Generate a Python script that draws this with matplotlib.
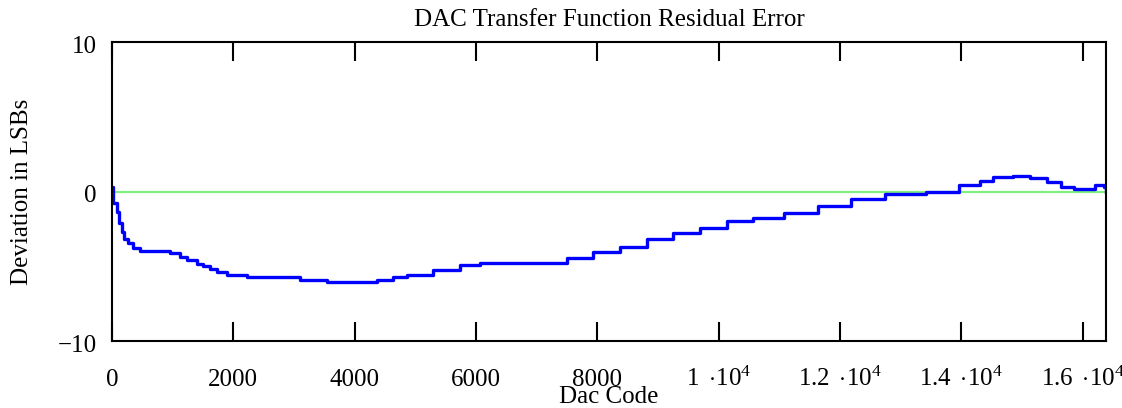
import numpy as np
import matplotlib.pyplot as plt
import matplotlib.transforms as mtransforms
from matplotlib.ticker import FixedLocator

plt.rcParams['font.family'] = ['Liberation Serif', 'DejaVu Serif']
plt.rcParams['mathtext.fontset'] = 'custom'
plt.rcParams['mathtext.rm'] = 'Liberation Serif'
plt.rcParams['mathtext.it'] = 'Liberation Serif:italic'

# residual error (LSB), by DAC code
codes = [0, 21, 77, 115, 160, 198, 264, 346, 461, 840, 956, 1121, 1236,
         1401, 1500, 1615, 1731, 1895, 2225, 3098, 3543, 4203, 4367, 4631,
         4862, 5291, 5736, 6065, 7054, 7499, 7928, 8373, 8818, 9246, 9691,
         10136, 10565, 11076, 11636, 12180, 12740, 13416, 13960, 14306,
         14520, 14850, 15130, 15410, 15640, 15855, 16201, 16350, 16383]
error = [0.3, -0.75, -1.4, -2.1, -2.7, -3.2, -3.45, -3.8, -3.95, -3.95,
         -4.1, -4.35, -4.6, -4.85, -5.0, -5.2, -5.4, -5.6, -5.75, -5.9,
         -6.05, -6.05, -5.9, -5.75, -5.6, -5.25, -4.9, -4.8, -4.8, -4.45,
         -4.05, -3.7, -3.2, -2.75, -2.45, -2.0, -1.8, -1.45, -1.0, -0.5,
         -0.15, 0.0, 0.45, 0.7, 0.95, 1.05, 0.9, 0.65, 0.3, 0.15, 0.45,
         0.3, 0.0]

xticks = [0, 2000, 4000, 6000, 8000, 10000, 12000, 14000, 16000]
xtick_labels = ['0', '2000', '4000', '6000', '8000',
                r'$1\ \cdot\!10^{4}$', r'$1.2\ \cdot\!10^{4}$',
                r'$1.4\ \cdot\!10^{4}$', r'$1.6\ \cdot\!10^{4}$']
yticks = [-10, 0, 10]
ytick_labels = ['\u221210', '0', '10']

fig = plt.figure(figsize=(11.22, 4.08), dpi=100)
ax = fig.add_axes([112/1122, 1 - 341/408, 994/1122, 299/408])

ax.axhline(0, color='#80ee80', lw=1.6, zorder=1)
ax.plot(codes, error, color='#0000ff', lw=2.4, drawstyle='steps-post', zorder=2)

ax.set_xlim(0, 16383)
ax.set_ylim(-10, 10)

ax.xaxis.set_major_locator(FixedLocator(xticks))
ax.set_xticklabels(xtick_labels)
ax.set_yticks(yticks)
ax.set_yticklabels(ytick_labels)

ax.tick_params(axis='x', direction='in', length=14, width=1.5, top=True,
               labelsize=18, pad=32.5)
ax.tick_params(axis='y', length=0, labelsize=18, pad=11)
for lab in ax.get_xticklabels():
    lab.set_va('baseline')
shift = mtransforms.ScaledTranslation(0, -4.5/100, fig.dpi_scale_trans)
for lab in ax.get_yticklabels():
    lab.set_va('center')
    lab.set_transform(lab.get_transform() + shift)

for s in ax.spines.values():
    s.set_linewidth(1.5)

fig.text(609/1122, 1 - 20/408, 'DAC Transfer Function Residual Error',
         ha='center', va='center', fontsize=18)
fig.text(609/1122, 1 - 403/408, 'Dac Code', ha='center', va='baseline',
         fontsize=18)
fig.text(22/1122, 1 - 192/408, 'Deviation in LSBs', ha='center',
         va='center', rotation=90, fontsize=18)

fig.savefig('out.png', dpi=100)
